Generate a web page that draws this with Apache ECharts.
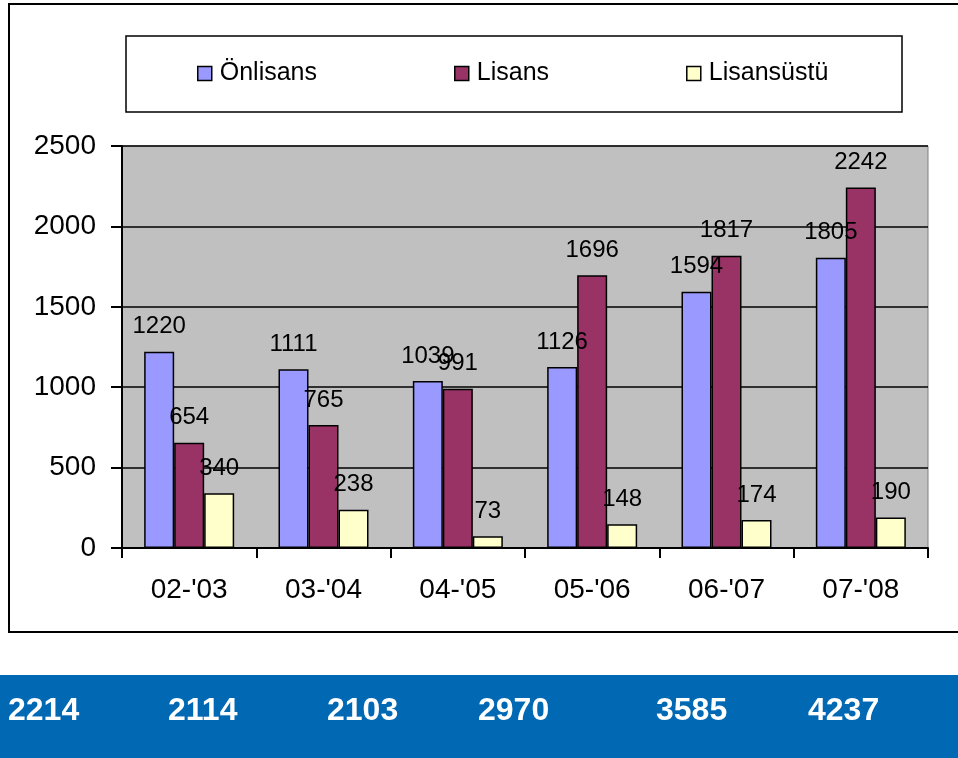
<!DOCTYPE html>
<html>
<head>
<meta charset="utf-8">
<script src="https://cdn.jsdelivr.net/npm/echarts@6/dist/echarts.min.js"></script>
<style>
  html, body { margin: 0; padding: 0; background: #fff; }
  #chart { width: 958px; height: 758px; }
</style>
</head>
<body>
<div id="chart"></div>
<script>
  // akademik yıllar
  const years = ["02-'03", "03-'04", "04-'05", "05-'06", "06-'07", "07-'08"]
  const onlisans = [1220, 1111, 1039, 1126, 1594, 1805]
  const lisans = [654, 765, 991, 1696, 1817, 2242]
  const lisansustu = [340, 238, 73, 148, 174, 190]
  const totals = [2214, 2114, 2103, 2970, 3585, 4237]
  const yTicks = { min: 0, max: 2500, interval: 500 }

  const totalX = [8, 168, 327, 478, 656, 808] // alt şeritteki yazıların yeri
  const font = 'Liberation Sans, Arial, sans-serif'

  const chart = echarts.init(document.getElementById('chart'))

  const barSeries = (name, data, color) => ({
    name: name,
    type: 'bar',
    data: data,
    barWidth: 30,
    barGap: '0%',
    itemStyle: { color: color, borderColor: '#000', borderWidth: 1.5 },
    label: {
      show: true,
      position: 'top',
      distance: 13,
      color: '#000',
      fontSize: 24,
      fontFamily: font
    }
  })

  chart.setOption({
    animation: false,
    backgroundColor: '#fff',
    grid: {
      left: 122,
      right: 30,
      top: 146,
      bottom: 210,
      show: true,
      backgroundColor: '#c0c0c0',
      borderColor: '#808080',
      borderWidth: 1
    },
    legend: {
      left: 197,
      top: 61,
      padding: 0,
      itemWidth: 14,
      itemHeight: 14,
      itemGap: 137,
      icon: 'rect',
      itemStyle: { borderColor: '#000', borderWidth: 1.5 },
      textStyle: { fontSize: 25, color: '#000', fontFamily: font, padding: [0, 0, 0, 3] },
      data: ['Önlisans', 'Lisans', 'Lisansüstü']
    },
    xAxis: {
      type: 'category',
      data: years,
      axisLine: { lineStyle: { color: '#000', width: 2 } },
      axisTick: { show: true, length: 10, lineStyle: { color: '#000', width: 2 } },
      axisLabel: { color: '#000', fontSize: 28, fontFamily: font, margin: 28 }
    },
    yAxis: {
      type: 'value',
      min: yTicks.min,
      max: yTicks.max,
      interval: yTicks.interval,
      axisLine: { show: true, lineStyle: { color: '#000', width: 2 } },
      axisTick: { show: true, length: 11, lineStyle: { color: '#000', width: 2 } },
      axisLabel: { color: '#000', fontSize: 28, fontFamily: font, margin: 26, formatter: (v) => String(v) },
      splitLine: { show: true, lineStyle: { color: '#000', width: 1.5 } }
    },
    series: [
      barSeries('Önlisans', onlisans, '#9999ff'),
      barSeries('Lisans', lisans, '#993366'),
      barSeries('Lisansüstü', lisansustu, '#ffffcc')
    ],
    graphic: [
      {
        type: 'rect',
        z: -1,
        shape: { x: 9, y: 4, width: 960, height: 628 },
        style: { fill: 'none', stroke: '#000', lineWidth: 2 }
      },
      {
        type: 'rect',
        z: -1,
        shape: { x: 126, y: 36, width: 776, height: 76 },
        style: { fill: '#fff', stroke: '#000', lineWidth: 1.5 }
      },
      {
        type: 'rect',
        shape: { x: 0, y: 675, width: 958, height: 83 },
        style: { fill: '#0168b3' }
      },
      ...totals.map((t, i) => ({
        type: 'text',
        x: totalX[i],
        y: 711,
        style: {
          text: String(t),
          fill: '#fff',
          font: 'bold 32px ' + font,
          textVerticalAlign: 'middle',
          verticalAlign: 'middle'
        }
      }))
    ]
  })
</script>
</body>
</html>
